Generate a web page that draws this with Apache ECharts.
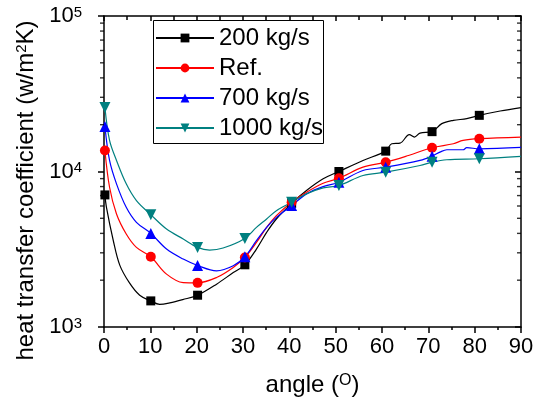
<!DOCTYPE html>
<html>
<head>
<meta charset="utf-8">
<script src="https://cdn.jsdelivr.net/npm/echarts@6/dist/echarts.min.js"></script>
<style>html,body{margin:0;padding:0;background:#fff;}#c{width:548px;height:406px;}</style>
</head>
<body>
<div id="c"></div>
<script>
// Marker positions (angle, degrees)
const markerAngles = [0.2, 10.1, 20.2, 30.4, 40.5, 50.7, 60.8, 70.8, 81.0];
const seriesNames = ['200 kg/s', 'Ref.', '700 kg/s', '1000 kg/s'];
// Marker values (W/m2K)
const m200  = [7070, 1472, 1601, 2512, 6240, 10000, 13520, 18040, 22970];
const mRef  = [13660, 2829, 1923, 2800, 6340, 9050, 11480, 14220, 16250];
const m700  = [19500, 4000, 2486, 2829, 6035, 8530, 10660, 12550, 14000];
const m1000 = [25760, 5280, 3249, 3713, 6340, 8125, 9900, 11480, 12080];
// Curve points between markers
const c200x  = [0.5, 2.0, 3.4, 5.5, 7.7, 12.0, 14.2, 17.0, 24.3, 27.9, 32.9, 35.1, 37.2, 43.7, 47.3, 55.9, 62.1, 63.9, 65.9, 67.0, 68.2, 72.9, 75.4, 78.3, 85.5, 90];
const c200y  = [5950, 3600, 2500, 1920, 1600, 1400, 1430, 1500, 1886, 2240, 3170, 4060, 4950, 7540, 8970, 11780, 15090, 15230, 17250, 16650, 17660, 20310, 21330, 21870, 24490, 25760];
const cRefx  = [1.2, 2.7, 4.8, 7.0, 13.5, 17.1, 24.3, 27.9, 32.9, 35.1, 37.2, 43.7, 47.3, 55.9, 65.7, 75.4, 77.5, 90];
const cRefy  = [7920, 5335, 3963, 3249, 2188, 1931, 2080, 2413, 3498, 4371, 5200, 7355, 8405, 10660, 12680, 15090, 15850, 16640];
const c700x  = [1.2, 2.7, 4.8, 7.0, 13.5, 17.1, 24.3, 27.9, 32.9, 35.1, 37.2, 43.7, 47.3, 55.9, 68.2, 72.5, 74.0, 77.5, 78.3, 90];
const c700y  = [11780, 8330, 5885, 4710, 3170, 2734, 2297, 2475, 3588, 4371, 5070, 7180, 8000, 10150, 11780, 13320, 13800, 13800, 14220, 14290];
const c1000x = [1.2, 2.7, 4.8, 7.0, 13.5, 17.1, 22.8, 25.7, 32.9, 35.1, 37.2, 43.7, 47.3, 55.9, 68.2, 74.0, 90];
const c1000y = [15850, 11780, 8330, 6500, 4268, 3680, 3125, 3220, 4371, 4953, 5602, 7180, 7850, 9420, 10930, 11900, 12500];
// Axis ticks
const yMinorTicks = [2000,3000,4000,5000,6000,7000,8000,9000,20000,30000,40000,50000,60000,70000,80000,90000];
const xMin = 0, xMax = 90;

const FONT = 'Liberation Sans, Arial, sans-serif';

function build(mY, cX, cY) {
  const pts = [];
  markerAngles.forEach((x, i) => pts.push({ value: [x, mY[i]] }));
  cX.forEach((x, i) => pts.push({ value: [x, cY[i]], symbol: 'none' }));
  pts.sort((a, b) => a.value[0] - b.value[0]);
  return pts;
}

const specs = [
  { name: seriesNames[0], m: m200, cx: c200x, cy: c200y, color: '#000000', symbol: 'rect', size: 9 },
  { name: seriesNames[1], m: mRef, cx: cRefx, cy: cRefy, color: '#ff0000', symbol: 'circle', size: 10 },
  { name: seriesNames[2], m: m700, cx: c700x, cy: c700y, color: '#0000ff', symbol: 'triangle', size: 11 },
  { name: seriesNames[3], m: m1000, cx: c1000x, cy: c1000y, color: '#008080', symbol: 'path://M0,0 L10,0 L5,9 Z', size: 11 }
];

const chart = echarts.init(document.getElementById('c'));
const axisLineStyle = { color: '#000', width: 1.5 };

// minor log ticks drawn as tiny marks on the axis edges
const tickSeries = (xv, offset) => ({
  type: 'scatter', xAxisIndex: 0, yAxisIndex: 0, silent: true, clip: false, z: 5,
  data: yMinorTicks.map(v => [xv, v]),
  symbol: 'rect', symbolSize: [4, 1.4], symbolOffset: [offset, 0],
  itemStyle: { color: '#000' }, emphasis: { disabled: true }
});

chart.setOption({
  animation: false,
  backgroundColor: '#fff',
  textStyle: { fontFamily: FONT },
  grid: { left: 104, right: 27, top: 16, bottom: 79, containLabel: false },
  graphic: [{
    type: 'rect', left: 153, top: 20, z: 3, silent: true,
    shape: { width: 170, height: 123 },
    style: { fill: '#fff', stroke: '#000', lineWidth: 1 }
  }],
  legend: {
    orient: 'vertical', left: 153, top: 20, z: 10,
    data: seriesNames,
    backgroundColor: 'transparent', borderWidth: 0,
    padding: [6, 0, 5, 2], itemGap: 6, itemWidth: 58, itemHeight: 11,
    textStyle: { fontSize: 24, color: '#000', fontFamily: FONT }
  },
  xAxis: [
    {
      type: 'value', min: xMin, max: xMax, interval: 10, position: 'bottom',
      axisLine: { show: true, onZero: false, lineStyle: axisLineStyle },
      axisTick: { show: true, inside: false, length: 6, lineStyle: axisLineStyle },
      minorTick: { show: true, splitNumber: 2, length: 3, lineStyle: axisLineStyle },
      splitLine: { show: false }, minorSplitLine: { show: false },
      axisLabel: { fontSize: 22, color: '#000', margin: 9, fontFamily: FONT },
      name: 'angle ({s|O})', nameLocation: 'middle', nameGap: 46,
      nameTextStyle: { fontSize: 24, color: '#000', fontFamily: FONT,
        rich: { s: { fontSize: 16, verticalAlign: 'top', fontFamily: FONT, color: '#000', padding: [0, 0, 6, 0] } } }
    },
    {
      type: 'value', min: xMin, max: xMax, interval: 10, position: 'top',
      axisLine: { show: true, onZero: false, lineStyle: axisLineStyle },
      axisTick: { show: true, inside: true, length: 5, lineStyle: axisLineStyle },
      minorTick: { show: true, splitNumber: 2, length: 4, lineStyle: axisLineStyle },
      splitLine: { show: false }, axisLabel: { show: false }
    }
  ],
  yAxis: [
    {
      type: 'log', logBase: 10, min: 1000, max: 100000, position: 'left',
      axisLine: { show: true, onZero: false, lineStyle: axisLineStyle },
      axisTick: { show: true, inside: false, length: 6, lineStyle: axisLineStyle },
      minorTick: { show: false }, splitLine: { show: false },
      axisLabel: {
        margin: 22, color: '#000',
        formatter: v => '{b|10}{s|' + Math.round(Math.log10(v)) + '}',
        rich: {
          b: { fontSize: 22, fontFamily: FONT, color: '#000' },
          s: { fontSize: 15, fontFamily: FONT, color: '#000', verticalAlign: 'top' }
        }
      },
      name: 'heat transfer coefficient (w/m{s|2}K)', nameLocation: 'middle', nameGap: 66, nameRotate: 90,
      nameTextStyle: { fontSize: 24, color: '#000', fontFamily: FONT, padding: [0, 38, 0, 0],
        rich: { s: { fontSize: 15, verticalAlign: 'top', fontFamily: FONT, color: '#000' } } }
    },
    {
      type: 'log', logBase: 10, min: 1000, max: 100000, position: 'right',
      axisLine: { show: true, onZero: false, lineStyle: axisLineStyle },
      axisTick: { show: true, inside: true, length: 6, lineStyle: axisLineStyle },
      axisLabel: { show: false }, splitLine: { show: false }
    }
  ],
  series: specs.map(s => ({
    name: s.name, type: 'line', xAxisIndex: 0, yAxisIndex: 0,
    data: build(s.m, s.cx, s.cy),
    smooth: 0.35, showSymbol: true, showAllSymbol: true,
    symbol: s.symbol, symbolSize: s.size,
    itemStyle: { color: s.color },
    lineStyle: { color: s.color, width: 1.2 },
    emphasis: { disabled: true }
  })).concat([tickSeries(xMin, -2), tickSeries(xMax, -2)])
});
</script>
</body>
</html>
